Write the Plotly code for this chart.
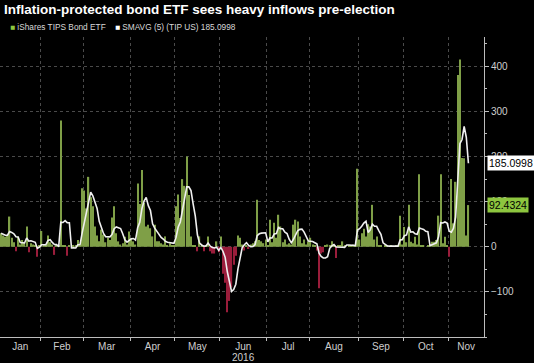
import plotly.graph_objects as go
import pandas as pd

TITLE = "Inflation-protected bond ETF sees heavy inflows pre-election"
SERIES_NAME = "iShares TIPS Bond ETF"
SMA_NAME = "SMAVG (5) (TIP US) 185.0998"
YEAR_LABEL = "2016"

months = ["Jan", "Feb", "Mar", "Apr", "May", "Jun", "Jul", "Aug", "Sep", "Oct", "Nov"]
# trading days shown in each month (2016)
month_days = [19, 20, 22, 21, 21, 22, 20, 23, 21, 21, 10]

flows_jan = [30, 25, 22, 25, 67, 20, 10, -10, 22, 5, 15, 10, 45, -12, 8, 5, 3, -22, 2]
flows_feb = [35, 5, 3, 25, 10, 5, -18, 2, 3, 280, 2, 3, -20, 2, 0, 3, 2, 15, 5, 130]
flows_mar = [125, 85, 155, 110, 90, 45, 25, 12, 38, 27, 10, 20, 15, 65, 90, 30, 12, 5, 8, 22, 5, 34]
flows_apr = [19, 12, 5, 140, 95, 170, 97, 45, 49, 41, 23, 49, 12, 12, 8, 5, 23, 3, 8, 3, 2]
flows_may = [90, 116, 64, 150, 135, 200, 115, 23, 3, 2, -10, 23, 2, -10, 3, 23, -10, -15, -15, 12, -12]
flows_jun = [23, -60, -80, -145, -120, -90, -40, -20, 25, 20, 5, -8, 3, -5, 5, 8, 12, 104, 15, 12, 8, 16]
flows_jul = [3, 60, 10, 53, 20, 71, 45, 10, 16, 5, 8, 5, 49, 60, 56, 23, 8, 16, 5, 12]
flows_aug = [20, 5, 3, -8, -92, -15, -12, 3, 5, 2, 12, 3, -25, 2, 3, 12, 2, 0, 2, 3, 5, 3, 173]
flows_sep = [16, 30, 40, 23, 50, 45, 93, 16, 23, 3, 2, 0, 2, 3, 0, 2, 0, 2, 3, 69, 5]
flows_oct = [44, 10, 93, 11, 8, 22, 5, 161, 3, 2, 0, 2, 5, 11, 11, 15, 69, 161, 8, 22, 3]
flows_nov = [-22, 150, 52, 144, 381, 415, 197, 196, 25.0666, 92.4324]

flows = (flows_jan + flows_feb + flows_mar + flows_apr + flows_may + flows_jun +
         flows_jul + flows_aug + flows_sep + flows_oct + flows_nov)
day_index = list(range(len(flows)))

# 5-day simple moving average of the flows (SMAVG (5))
sma5 = pd.Series(flows).rolling(5, min_periods=1).mean().tolist()

last_value = flows[-1]
last_sma = sma5[-1]

# month boundaries / label positions on the trading-day axis
starts = []
acc = 0
for d in month_days:
    starts.append(acc)
    acc += d
x_max = 226.3
bounds = [s - 0.5 for s in starts] + [x_max]
mids = [(bounds[k] + bounds[k + 1]) / 2 for k in range(len(months))]

GREEN = "#7f9f47"
RED = "#9a1d3b"
bar_colors = [GREEN if v >= 0 else RED for v in flows]

fig = go.Figure()
fig.add_bar(x=day_index, y=flows, marker=dict(color=bar_colors, line=dict(width=0)),
            width=0.6, name=SERIES_NAME, showlegend=False)
fig.add_scatter(x=day_index, y=sma5, mode="lines", name=SMA_NAME,
                line=dict(color="#f0f0f0", width=1.6), showlegend=False)

FONT = "Liberation Sans, Arial, sans-serif"
axis_text = dict(family=FONT, size=10, color="#cfcfcf")

fig.update_layout(
    width=534, height=363,
    margin=dict(l=0, r=50, t=37, b=26),
    paper_bgcolor="black", plot_bgcolor="black",
    bargap=0.3,
    font=dict(family=FONT, color="#d0d0d0"),
    xaxis=dict(
        range=[-0.5, x_max], tickmode="array", tickvals=mids, ticktext=months,
        ticks="", showgrid=False, zeroline=False, showline=True, linecolor="#bdbdbd",
        linewidth=1, tickfont=axis_text,
        minor=dict(tickmode="array", tickvals=bounds[1:-1], ticks="outside", ticklen=3,
                   tickcolor="#bdbdbd", showgrid=True, gridcolor="#4a4a4a",
                   griddash="dot", gridwidth=1),
    ),
    yaxis=dict(
        side="right", range=[-200, 465], tickmode="array",
        tickvals=[-100, 0, 100, 200, 300, 400],
        ticks="outside", ticklen=4, tickcolor="#bdbdbd",
        showgrid=True, gridcolor="#4a4a4a", griddash="dot", gridwidth=1,
        zeroline=False, showline=True, linecolor="#bdbdbd", linewidth=1,
        tickfont=axis_text,
        minor=dict(dtick=50, ticks="outside", ticklen=2, tickcolor="#bdbdbd", showgrid=False),
    ),
)

annotations = [
    dict(text="<b>" + TITLE + "</b>", xref="paper", yref="paper", x=0.004, y=1.093,
         xanchor="left", yanchor="middle", showarrow=False,
         font=dict(family=FONT, size=13.5, color="white")),
    dict(text='<span style="color:#8dc63f">■</span> ' + SERIES_NAME +
              '    <span style="color:white">■</span> ' + SMA_NAME,
         xref="paper", yref="paper", x=0.016, y=1.033, xanchor="left", yanchor="middle",
         showarrow=False, font=dict(family=FONT, size=8.3, color="#d8d8d8")),
    dict(text=YEAR_LABEL, xref="x", yref="paper", x=mids[5], y=-0.067,
         xanchor="center", yanchor="middle", showarrow=False, font=axis_text),
    dict(text=f"{last_sma:.4f}", xref="paper", yref="y", x=1, y=last_sma, xanchor="left",
         yanchor="middle", xshift=3, showarrow=False, bgcolor="white", borderpad=1,
         font=dict(family=FONT, size=10.5, color="black")),
    dict(text=f"{last_value:.4f}", xref="paper", yref="y", x=1, y=last_value, xanchor="left",
         yanchor="middle", xshift=3, showarrow=False, bgcolor="#8dc63f", borderpad=1,
         font=dict(family=FONT, size=10.5, color="black")),
]
fig.update_layout(annotations=annotations)

fig.write_html("out.html", config={"displayModeBar": False},
               post_script="document.body.style.margin='0';document.body.style.background='black';")
